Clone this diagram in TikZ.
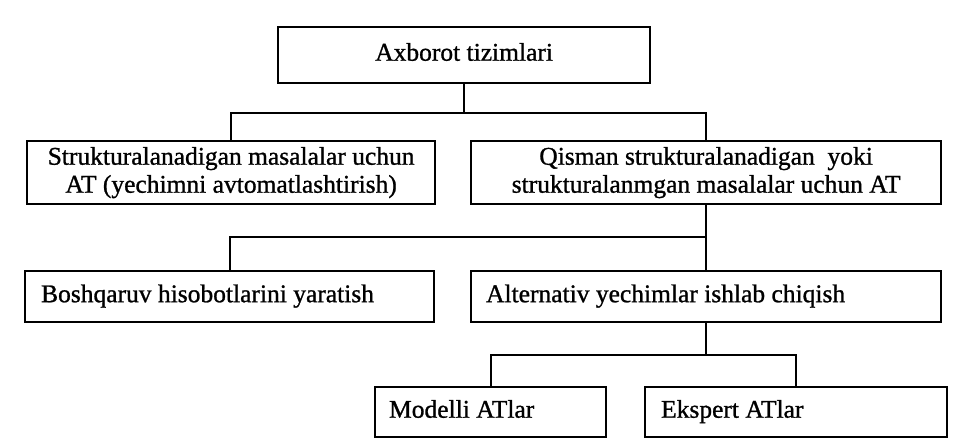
\documentclass[tikz,border=0pt]{standalone}
\usepackage{fontspec}
\setmainfont{Liberation Serif}
\newfontfamily\heavyfont[FakeBold=1]{Liberation Serif}
\begin{document}
\begin{tikzpicture}[x=1pt,y=1pt,
  box/.style={draw=black, line width=2.2pt, anchor=north west, inner sep=0pt,
    font=\heavyfont\fontsize{25.5}{28}\selectfont},
  cbox/.style={box, align=center},
  lbox/.style={box},
  conn/.style={draw=black, line width=2pt}]
\fill[white] (0,0) rectangle (975,-440);
\useasboundingbox (0,0) rectangle (975,-440);
% boxes
\node[cbox, minimum width=372pt, minimum height=56pt] (A) at (277,-26) {\strut Axborot tizimlari};
\node[cbox, minimum width=408pt, minimum height=63pt] (L1) at (26,-140)
  {Strukturalanadigan masalalar uchun\\AT (yechimni avtomatlashtirish)};
\node[cbox, minimum width=470pt, minimum height=63pt] (R1) at (470,-140)
  {Qisman strukturalanadigan\ \ yoki\\strukturalanmgan masalalar uchun AT};
\node[lbox, minimum width=409pt, minimum height=51pt, inner xsep=16pt] (L2) at (24,-270)
  {\makebox[377pt][l]{\strut Boshqaruv hisobotlarini yaratish}};
\node[lbox, minimum width=470pt, minimum height=51pt, inner xsep=15pt] (R2) at (470,-270)
  {\makebox[440pt][l]{\strut Alternativ yechimlar ishlab chiqish}};
\node[lbox, minimum width=231pt, minimum height=50pt, inner xsep=14pt] (M) at (374,-386)
  {\makebox[203pt][l]{\strut Modelli ATlar}};
\node[lbox, minimum width=302pt, minimum height=50pt, inner xsep=16pt] (E) at (644,-386)
  {\makebox[270pt][l]{\strut Ekspert ATlar}};
% junction levels
\coordinate (j1) at (0,-113);
\coordinate (j2) at (0,-237);
\coordinate (j3) at (0,-355);
% connectors
\draw[conn] (A.south) -- (A.south |- j1);
\draw[conn] (L1.north) |- (R1.north |- j1) -- (R1.north);
\draw[conn] (R1.south) -- (R1.south |- j2);
\draw[conn] (L2.north) |- (R2.north |- j2) -- (R2.north);
\draw[conn] (R2.south) -- (R2.south |- j3);
\draw[conn] (M.north) |- (E.north |- j3) -- (E.north);
\end{tikzpicture}
\end{document}
